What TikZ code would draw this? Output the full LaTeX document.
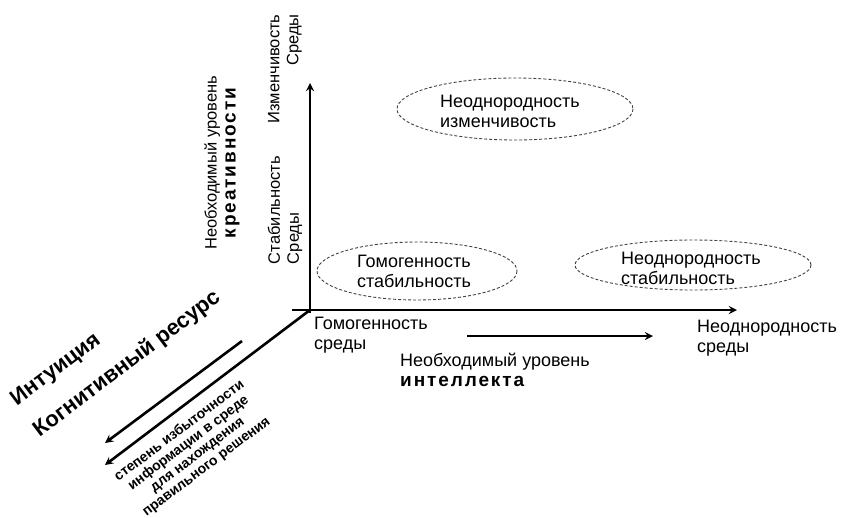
\documentclass[tikz,border=0pt]{standalone}
\usepackage{fontspec}
\setmainfont{Liberation Sans}
\newfontfamily\widebold[LetterSpace=10]{Liberation Sans Bold}

\begin{document}
\begin{tikzpicture}[x=1pt, y=-1pt,
        axis/.style={line width=2.6pt, -stealth},
        zone/.style={dash pattern=on 3pt off 2pt, line width=0.9pt, black!75},
        lbl/.style={inner sep=0pt, font=\fontsize{18}{20}\selectfont},
        vlbl/.style={inner sep=0pt, rotate=90, font=\fontsize{16.5}{19}\selectfont},
        slant/.style={inner sep=0pt, rotate=37, font=\bfseries\fontsize{22}{26}\selectfont}]
        \useasboundingbox (0,0) rectangle (841,517);

        % axes
        \coordinate (O) at (310,310);
        \coordinate (ybot) at (310,313);
        \coordinate (ytop) at (310,83);
        \coordinate (xleft) at (292,310);
        \coordinate (xright) at (737,310);
        \coordinate (zend) at (105,465);
        \draw[axis] (ybot) -- (ytop);
        \draw[axis] (xleft) -- (xright);
        \draw[axis] (O) -- (zend);

        \coordinate (intA) at (467,336);
        \coordinate (intB) at (653,336);
        \draw[axis] (intA) -- (intB);
        \coordinate (cogA) at (242,341);
        \coordinate (cogB) at (105,443);
        \draw[axis] (cogA) -- (cogB);

        % zones
        \draw[zone] (515,109) ellipse [x radius=118, y radius=31];
        \draw[zone] (417,271) ellipse [x radius=100, y radius=29];
        \draw[zone] (693,265) ellipse [x radius=118, y radius=25];
        \node[lbl, align=left] (hetvar) at (510,111) {Неоднородность\\изменчивость};
        \node[lbl, align=left] (homstab) at (414,271) {Гомогенность\\стабильность};
        \node[lbl, align=left] (hetstab) at (691,268) {Неоднородность\\стабильность};

        % horizontal labels
        \node[lbl, align=left, anchor=north west] (homenv) at (314,317) {Гомогенность\\среды};
        \node[lbl, align=left, anchor=north west] (hetenv) at (697,320) {Неоднородность\\среды};
        \node[lbl, align=left, anchor=north west] (intel) at (400,353)
            {Необходимый уровень\\{\widebold\fontsize{19}{20}\selectfont интеллекта}};

        % vertical labels
        \node[vlbl, align=center] (creat) at (222,163)
            {Необходимый уровень\\{\widebold\fontsize{19}{20}\selectfont креативности}};
        \node[vlbl, align=left] (stab) at (285,210) {Стабильность\\Среды};
        \node[vlbl, align=right] (chg) at (285,69) {Изменчивость\\Среды};

        % slanted labels
        \node[slant] (intuit) at (56,370) {Интуиция};
        \node[slant] (cogn) at (127,364) {Когнитивный ресурс};
        \node[inner sep=0pt, rotate=37, align=center, font=\bfseries\fontsize{14}{15}\selectfont] (redund) at (193,449)
            {степень избыточности\\информации в среде\\для нахождения\\правильного решения};
    \end{tikzpicture}
\end{document}
